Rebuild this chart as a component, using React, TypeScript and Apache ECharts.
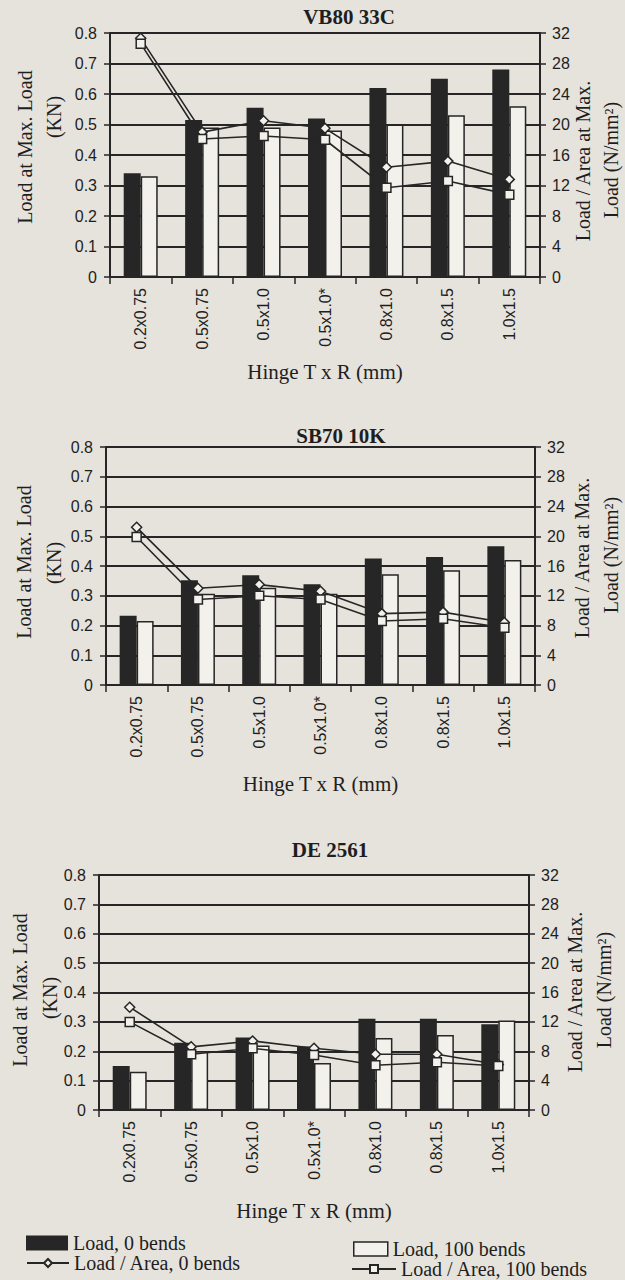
import React, { useEffect, useRef } from "react";
import * as echarts from "echarts";

// ---------- data ----------
const categories = ["0.2x0.75", "0.5x0.75", "0.5x1.0", "0.5x1.0*", "0.8x1.0", "0.8x1.5", "1.0x1.5"];
const panelTitles = ["VB80 33C", "SB70 10K", "DE 2561"];

// Load at Max. Load (KN)
const vbLoad0 = [0.34, 0.515, 0.555, 0.52, 0.62, 0.65, 0.68];
const vbLoad100 = [0.33, 0.49, 0.49, 0.48, 0.5, 0.53, 0.56];
// Load / Area at Max. Load (N/mm²)
const vbArea0 = [31.3, 19.0, 20.5, 19.5, 14.4, 15.2, 12.8];
const vbArea100 = [30.6, 18.1, 18.5, 18.0, 11.7, 12.6, 10.8];

const sbLoad0 = [0.233, 0.352, 0.369, 0.339, 0.425, 0.43, 0.466];
const sbLoad100 = [0.215, 0.307, 0.327, 0.307, 0.372, 0.386, 0.42];
const sbArea0 = [21.2, 13.0, 13.5, 12.6, 9.6, 9.8, 8.4];
const sbArea100 = [19.9, 11.5, 12.0, 11.5, 8.6, 8.9, 7.7];

const deLoad0 = [0.15, 0.229, 0.247, 0.216, 0.311, 0.311, 0.292];
const deLoad100 = [0.13, 0.2, 0.22, 0.16, 0.245, 0.255, 0.305];
const deArea0 = [14.0, 8.6, 9.4, 8.4, 7.6, 7.6, 6.2];
const deArea100 = [12.0, 7.6, 8.4, 7.5, 6.1, 6.5, 6.0];

const seriesNames = ["Load, 0 bends", "Load, 100 bends", "Load / Area, 0 bends", "Load / Area, 100 bends"];
const xAxisTitle = "Hinge T x R (mm)";
const leftAxisTitle = ["Load at Max. Load", "(KN)"];
const rightAxisTitle = ["Load / Area at Max.", "Load (N/mm²)"];

const panels = [
  { load0: vbLoad0, load100: vbLoad100, area0: vbArea0, area100: vbArea100 },
  { load0: sbLoad0, load100: sbLoad100, area0: sbArea0, area100: sbArea100 },
  { load0: deLoad0, load100: deLoad100, area0: deArea0, area100: deArea100 },
];

// ---------- layout / style ----------
const PAPER = "#e6e3dc";
const LIGHT = "#f3f1ec";
const INK = "#262626";
const TEXT = "#1e1e1e";
const SERIF = '"Liberation Serif", "DejaVu Serif", serif';
const SANS = '"Liberation Sans", Arial, sans-serif';

const grids = [
  { left: 110, top: 33, width: 430, height: 244 },
  { left: 106, top: 447, width: 429, height: 238 },
  { left: 99, top: 875, width: 430, height: 235 },
];
const nameGaps = [84, 88, 90];
const titlePos = [
  [349, 17],
  [341, 436],
  [330, 850],
];
const leftNamePos = [
  [[25, 147], [54, 117]],
  [[24, 562], [54, 563]],
  [[20, 990], [50, 998]],
];
const rightNamePos = [
  [[583, 161], [611, 160]],
  [[582, 558], [611, 555]],
  [[575, 992], [604, 990]],
];

export default function App() {
  const ref = useRef<HTMLDivElement>(null);

  useEffect(() => {
    if (!ref.current) return;
    const chart = echarts.init(ref.current, null, { renderer: "svg" });

    const xAxis: any[] = [];
    const yAxis: any[] = [];
    const series: any[] = [];
    const graphic: any[] = [];

    panels.forEach((p, i) => {
      xAxis.push({
        type: "category",
        gridIndex: i,
        data: categories,
        boundaryGap: true,
        axisLine: { show: true, lineStyle: { color: INK, width: 2 } },
        axisTick: { show: true, length: 7, lineStyle: { color: INK, width: 1.5 } },
        axisLabel: {
          rotate: 90,
          margin: 11,
          fontFamily: SANS,
          fontSize: 16,
          color: TEXT,
          interval: 0,
        },
        splitLine: { show: false },
        name: xAxisTitle,
        nameLocation: "middle",
        nameGap: nameGaps[i],
        nameTextStyle: { fontFamily: SERIF, fontSize: 21, color: TEXT },
      });
      yAxis.push({
        type: "value",
        gridIndex: i,
        min: 0,
        max: 0.8,
        interval: 0.1,
        position: "left",
        axisLine: { show: true, lineStyle: { color: INK, width: 2 } },
        axisTick: { show: true, length: 6, lineStyle: { color: INK, width: 1.5 } },
        axisLabel: { fontFamily: SANS, fontSize: 16, color: TEXT, margin: 13 },
        splitLine: { show: true, lineStyle: { color: INK, width: 2 } },
      });
      yAxis.push({
        type: "value",
        gridIndex: i,
        min: 0,
        max: 32,
        interval: 4,
        position: "right",
        axisLine: { show: true, lineStyle: { color: INK, width: 2 } },
        axisTick: { show: true, length: 6, lineStyle: { color: INK, width: 1.5 } },
        axisLabel: { fontFamily: SANS, fontSize: 16, color: TEXT, margin: 12 },
        splitLine: { show: false },
      });

      series.push({
        name: seriesNames[0],
        type: "bar",
        xAxisIndex: i,
        yAxisIndex: 2 * i,
        data: p.load0,
        barWidth: 17,
        barGap: "0%",
        itemStyle: { color: INK, borderColor: INK, borderWidth: 0 },
        z: 2,
      });
      series.push({
        name: seriesNames[1],
        type: "bar",
        xAxisIndex: i,
        yAxisIndex: 2 * i,
        data: p.load100,
        barWidth: 17,
        barGap: "0%",
        itemStyle: { color: LIGHT, borderColor: INK, borderWidth: 1.5 },
        z: 2,
      });
      series.push({
        name: seriesNames[2],
        type: "line",
        xAxisIndex: i,
        yAxisIndex: 2 * i + 1,
        data: p.area0,
        symbol: "diamond",
        symbolSize: 10,
        showAllSymbol: true,
        lineStyle: { color: INK, width: 1.6 },
        itemStyle: { color: LIGHT, borderColor: INK, borderWidth: 1.5 },
        z: 4,
      });
      series.push({
        name: seriesNames[3],
        type: "line",
        xAxisIndex: i,
        yAxisIndex: 2 * i + 1,
        data: p.area100,
        symbol: "rect",
        symbolSize: 9,
        showAllSymbol: true,
        lineStyle: { color: INK, width: 1.6 },
        itemStyle: { color: LIGHT, borderColor: INK, borderWidth: 1.5 },
        z: 5,
      });

      graphic.push({
        type: "text",
        x: titlePos[i][0],
        y: titlePos[i][1],
        style: {
          text: panelTitles[i],
          fontFamily: SERIF,
          fontSize: 21,
          fontWeight: "bold",
          fill: TEXT,
          textAlign: "center",
          textVerticalAlign: "middle",
        },
      });
      leftAxisTitle.forEach((t, k) => {
        graphic.push({
          type: "text",
          x: leftNamePos[i][k][0],
          y: leftNamePos[i][k][1],
          rotation: Math.PI / 2,
          style: {
            text: t,
            fontFamily: SERIF,
            fontSize: 20,
            fill: TEXT,
            textAlign: "center",
            textVerticalAlign: "middle",
          },
        });
      });
      rightAxisTitle.forEach((t, k) => {
        graphic.push({
          type: "text",
          x: rightNamePos[i][k][0],
          y: rightNamePos[i][k][1],
          rotation: Math.PI / 2,
          style: {
            text: t,
            fontFamily: SERIF,
            fontSize: 20,
            fill: TEXT,
            textAlign: "center",
            textVerticalAlign: "middle",
          },
        });
      });
    });

    const legendText = { fontFamily: SERIF, fontSize: 20, lineHeight: 19, color: TEXT };
    const legend = [
      {
        data: [seriesNames[0]],
        left: 26,
        top: 1233,
        padding: 0,
        itemWidth: 42,
        itemHeight: 15,
        itemGap: 0,
        selectedMode: false,
        icon: "rect",
        textStyle: legendText,
        itemStyle: { color: INK, borderWidth: 0 },
      },
      {
        data: [seriesNames[2]],
        left: 26,
        top: 1253,
        padding: 0,
        itemWidth: 42,
        itemHeight: 10,
        itemGap: 0,
        selectedMode: false,
        textStyle: legendText,
      },
      {
        data: [seriesNames[1]],
        left: 353,
        top: 1239,
        padding: 0,
        itemWidth: 34,
        itemHeight: 14,
        itemGap: 0,
        selectedMode: false,
        icon: "rect",
        textStyle: legendText,
        itemStyle: { color: LIGHT, borderColor: INK, borderWidth: 1.5 },
      },
      {
        data: [seriesNames[3]],
        left: 351,
        top: 1259,
        padding: 0,
        itemWidth: 44,
        itemHeight: 10,
        itemGap: 0,
        selectedMode: false,
        textStyle: legendText,
      },
    ];

    chart.setOption({
      animation: false,
      backgroundColor: PAPER,
      grid: grids.map((g) => ({ ...g, containLabel: false })),
      xAxis,
      yAxis,
      series,
      legend,
      graphic,
    });

    return () => chart.dispose();
  }, []);

  return (
    <div
      ref={ref}
      style={{ position: "absolute", left: 0, top: 0, width: 625, height: 1280, background: PAPER }}
    />
  );
}
